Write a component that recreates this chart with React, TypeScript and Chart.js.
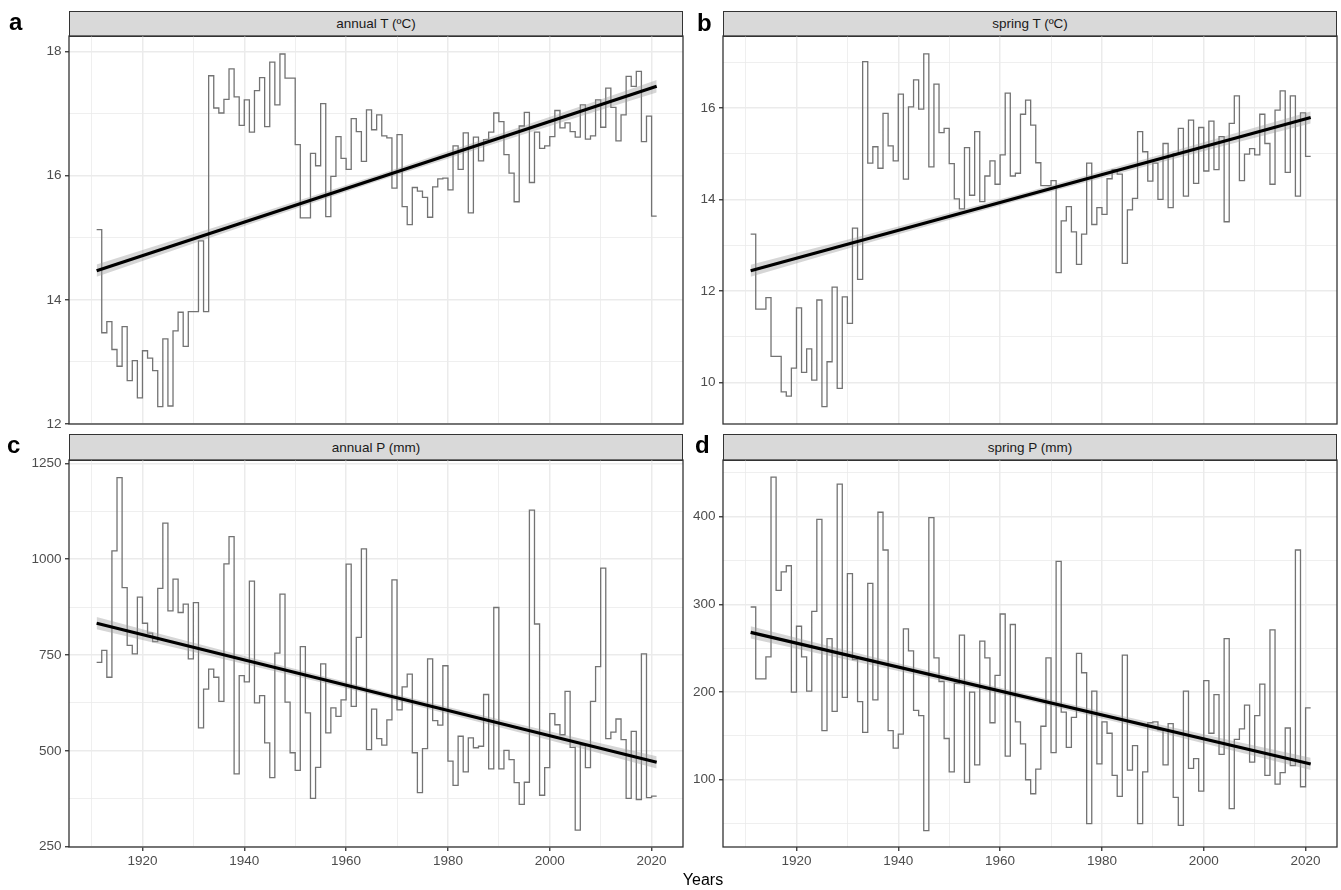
import React, { useEffect, useRef } from "react";
import { Chart, registerables } from "chart.js";

Chart.register(...registerables);

const FONT = '"Liberation Sans", Arial, Helvetica, sans-serif';

// ---------------- data ----------------
const years: number[] = Array.from({ length: 111 }, (_, i) => 1911 + i); // 1911..2021

const annualT = [
  15.13, 13.47, 13.65, 13.2, 12.93, 13.57, 12.7, 13.02, 12.42, 13.18,
  13.06, 12.86, 12.28, 13.37, 12.29, 13.5, 13.8, 13.25, 13.81, 13.81,
  14.95, 13.81, 17.61, 17.09, 17.01, 17.23, 17.72, 17.27, 16.81, 17.22,
  16.7, 17.37, 17.58, 16.79, 17.83, 17.14, 17.96, 17.57, 17.57, 16.5,
  15.32, 15.32, 16.36, 16.16, 17.16, 15.34, 15.99, 16.63, 16.28, 16.1,
  16.92, 16.71, 16.23, 17.06, 16.74, 16.98, 16.64, 16.61, 15.8, 16.66,
  15.5, 15.21, 15.81, 15.75, 15.65, 15.33, 15.82, 15.95, 15.96, 15.77,
  16.48, 16.1, 16.69, 15.4, 16.62, 16.24, 16.58, 16.7, 17.01, 16.87,
  16.34, 16.04, 15.58, 16.8, 17.02, 15.89, 16.7, 16.44, 16.48, 16.63,
  17.05, 16.77, 16.85, 16.71, 16.62, 17.14, 16.59, 16.64, 17.22, 16.78,
  17.41, 17.1, 16.56, 16.98, 17.6, 17.44, 17.68, 16.55, 16.96, 15.35,
  15.35,
];

const springT = [
  13.24, 11.6, 11.6, 11.85, 10.57, 10.57, 9.79, 9.7, 10.31, 11.63,
  10.22, 10.73, 10.05, 11.8, 9.47, 10.45, 12.08, 9.87, 11.87, 11.29,
  13.37, 12.25, 17.01, 14.79, 15.15, 14.68, 15.88, 15.17, 14.84, 16.3,
  14.44, 16.02, 16.61, 15.97, 17.18, 14.71, 16.52, 15.46, 15.55, 14.78,
  14.01, 13.79, 15.13, 14.09, 15.48, 13.95, 14.51, 14.84, 14.33, 14.97,
  16.32, 14.51, 14.57, 15.86, 16.17, 15.62, 14.8, 14.3, 14.3, 14.41,
  12.4, 13.53, 13.84, 13.29, 12.58, 13.24, 14.79, 13.45, 13.82, 13.67,
  14.45, 14.65, 14.55, 12.6, 13.77, 14.02, 15.48, 15.04, 14.4, 14.79,
  14.0, 15.22, 13.82, 15.0, 15.55, 14.07, 15.73, 14.35, 15.57, 14.62,
  15.71, 14.65, 15.37, 13.51, 15.66, 16.26, 14.41, 14.99, 15.11, 14.97,
  15.86, 15.22, 14.33, 15.95, 16.37, 14.59, 16.26, 14.07, 15.89, 14.94,
  14.94,
];

const annualP = [
  731, 762, 692, 1022, 1213, 926, 775, 753, 901, 833,
  807, 785, 924, 1094, 865, 948, 861, 883, 740, 887,
  560, 661, 713, 692, 629, 988, 1059, 440, 696, 680,
  943, 625, 644, 521, 430, 755, 909, 627, 495, 449,
  772, 599, 376, 457, 727, 547, 612, 590, 633, 987,
  616, 796, 1027, 503, 609, 532, 515, 581, 946, 607,
  667, 700, 495, 391, 506, 740, 579, 567, 722, 473,
  410, 538, 445, 534, 508, 512, 647, 453, 874, 453,
  501, 477, 417, 360, 418, 1128, 831, 384, 456, 597,
  568, 542, 655, 509, 293, 515, 456, 629, 720, 977,
  532, 549, 583, 529, 376, 551, 373, 753, 378, 382,
  382,
];

const springP = [
  297, 215, 215, 240, 445, 316, 337, 344, 200, 275,
  240, 201, 292, 397, 156, 261, 178, 437, 194, 335,
  237, 189, 154, 324, 191, 405, 362, 156, 136, 152,
  272, 247, 179, 173, 42, 399, 239, 212, 147, 109,
  210, 265, 97, 200, 117, 258, 239, 165, 219, 289,
  127, 277, 166, 141, 100, 84, 112, 161, 239, 131,
  349, 177, 137, 171, 244, 222, 50, 201, 118, 166,
  153, 105, 81, 242, 111, 139, 50, 109, 165, 166,
  157, 117, 164, 80, 48, 201, 113, 124, 87, 213,
  153, 197, 129, 261, 67, 146, 158, 185, 120, 173,
  209, 105, 271, 95, 108, 159, 116, 362, 92, 182,
  182,
];

// linear trend (start / end)
const trendYears = [1911, 2021];
const trendAnnualT = [14.47, 17.44];
const trendSpringT = [12.44, 15.79];
const trendAnnualP = [833, 470];
const trendSpringP = [268, 118];

// confidence band half-widths
const bandYears = [1911, 1925, 1940, 1966, 1992, 2007, 2021];
const bandAnnualT = [0.1, 0.082, 0.065, 0.05, 0.065, 0.082, 0.1];
const bandSpringT = [0.13, 0.106, 0.084, 0.065, 0.084, 0.106, 0.13];
const bandAnnualP = [16, 13, 10.4, 8, 10.4, 13, 16];
const bandSpringP = [7, 5.7, 4.5, 3.5, 4.5, 5.7, 7];

// tick labels (major) and minor grid steps
const xTickLabels = [1920, 1940, 1960, 1980, 2000, 2020];
const xMinorStep = 10;
const yTicksAnnualT = [12, 14, 16, 18];
const yTicksSpringT = [10, 12, 14, 16];
const yTicksAnnualP = [250, 500, 750, 1000, 1250];
const yTicksSpringP = [100, 200, 300, 400];

const stripTitles = ["annual T (ºC)", "spring T (ºC)", "annual P (mm)", "spring P (mm)"];
const panelLetters = ["a", "b", "c", "d"];
const xAxisTitle = "Years";

// ---------------- layout ----------------
const X_MIN = 1905.57;
const X_MAX = 2026.17;
const PAD = 14;
const Y_AXIS_W = 60;
const X_AXIS_H = 40;

type PanelDef = {
  title: string;
  letter: string;
  values: number[];
  trend: number[];
  band: number[];
  yMin: number;
  yMax: number;
  yStep: number;
  yMajor: number[];
  L: number;
  T: number;
  R: number;
  B: number;
  stripTop: number;
  bottom: boolean;
  letterX: number;
  letterBase: number;
};

const panels: PanelDef[] = [
  {
    title: stripTitles[0], letter: panelLetters[0], values: annualT, trend: trendAnnualT, band: bandAnnualT,
    yMin: 12.0, yMax: 18.25, yStep: 1, yMajor: yTicksAnnualT,
    L: 69, T: 36, R: 683, B: 424, stripTop: 11, bottom: false, letterX: 9, letterBase: 30,
  },
  {
    title: stripTitles[1], letter: panelLetters[1], values: springT, trend: trendSpringT, band: bandSpringT,
    yMin: 9.09, yMax: 17.57, yStep: 1, yMajor: yTicksSpringT,
    L: 723, T: 36, R: 1337, B: 424, stripTop: 11, bottom: false, letterX: 697, letterBase: 31,
  },
  {
    title: stripTitles[2], letter: panelLetters[2], values: annualP, trend: trendAnnualP, band: bandAnnualP,
    yMin: 249, yMax: 1259, yStep: 125, yMajor: yTicksAnnualP,
    L: 69, T: 460, R: 683, B: 847, stripTop: 434, bottom: true, letterX: 7, letterBase: 453,
  },
  {
    title: stripTitles[3], letter: panelLetters[3], values: springP, trend: trendSpringP, band: bandSpringP,
    yMin: 23.3, yMax: 464.6, yStep: 50, yMajor: yTicksSpringP,
    L: 723, T: 460, R: 1337, B: 847, stripTop: 434, bottom: true, letterX: 695, letterBase: 453,
  },
];

const MAJOR_GRID = "#ebebeb";
const TICK_COLOR = "#333333";
const LABEL_COLOR = "#4d4d4d";

const borderPlugin = {
  id: "panelBorder",
  afterDatasetsDraw(chart: any) {
    const { ctx, chartArea: a } = chart;
    ctx.save();
    ctx.strokeStyle = "#333333";
    ctx.lineWidth = 1.3;
    ctx.strokeRect(a.left, a.top, a.right - a.left, a.bottom - a.top);
    ctx.restore();
  },
};

function gridValues(min: number, max: number, step: number): number[] {
  const out: number[] = [];
  for (let v = Math.ceil(min / step - 1e-9) * step; v <= max + 1e-9; v += step) {
    out.push(Math.round(v * 1000) / 1000);
  }
  return out;
}

function buildConfig(p: PanelDef): any {
  const stepPts = years.map((x, i) => ({ x, y: p.values[i] }));
  const trendPts = trendYears.map((x, i) => ({ x, y: p.trend[i] }));
  const lineAt = (x: number) =>
    p.trend[0] + ((p.trend[1] - p.trend[0]) * (x - trendYears[0])) / (trendYears[1] - trendYears[0]);
  const upper = bandYears.map((x, i) => ({ x, y: lineAt(x) + p.band[i] }));
  const lower = bandYears.map((x, i) => ({ x, y: lineAt(x) - p.band[i] }));

  const isMajorX = (v: number) => xTickLabels.includes(v);
  const isMajorY = (v: number) => p.yMajor.includes(v);
  const xGrid = gridValues(X_MIN, X_MAX, xMinorStep);
  const yGrid = gridValues(p.yMin, p.yMax, p.yStep);

  return {
    type: "line",
    data: {
      datasets: [
        { data: trendPts, borderColor: "#000000", borderWidth: 3.2, pointRadius: 0, fill: false, order: 1 },
        {
          data: upper, borderColor: "rgba(0,0,0,0)", borderWidth: 1, pointRadius: 0,
          backgroundColor: "rgba(153,153,153,0.4)", fill: 2, order: 2,
        },
        { data: lower, borderColor: "rgba(0,0,0,0)", borderWidth: 1, pointRadius: 0, fill: false, order: 3 },
        {
          data: stepPts, borderColor: "#737373", borderWidth: 1.3, pointRadius: 0,
          stepped: "before", fill: false, order: 4,
        },
      ],
    },
    options: {
      animation: false,
      responsive: false,
      maintainAspectRatio: false,
      devicePixelRatio: 1,
      events: [],
      layout: { padding: { left: 0, top: PAD, right: PAD, bottom: p.bottom ? 0 : PAD } },
      plugins: {
        legend: { display: false },
        tooltip: { enabled: false },
        title: { display: false },
      },
      scales: {
        x: {
          type: "linear",
          min: X_MIN,
          max: X_MAX,
          bounds: "data",
          border: { display: false },
          grid: {
            drawOnChartArea: true,
            drawTicks: p.bottom,
            tickLength: 4,
            color: MAJOR_GRID,
            lineWidth: (c: any) => (c.tick && isMajorX(c.tick.value) ? 1.5 : 0.8),
            tickColor: (c: any) => (c.tick && isMajorX(c.tick.value) ? TICK_COLOR : "rgba(0,0,0,0)"),
            tickWidth: 1.3,
          },
          ticks: {
            display: p.bottom,
            autoSkip: false,
            maxRotation: 0,
            minRotation: 0,
            padding: 2,
            color: LABEL_COLOR,
            font: { family: FONT, size: 13.5 },
            callback: (v: number) => (isMajorX(v) ? String(v) : ""),
          },
          afterBuildTicks: (s: any) => {
            s.ticks = xGrid.map((v) => ({ value: v }));
          },
          afterFit: (s: any) => {
            s.height = p.bottom ? X_AXIS_H : 0;
          },
        },
        y: {
          type: "linear",
          min: p.yMin,
          max: p.yMax,
          bounds: "data",
          border: { display: false },
          grid: {
            drawOnChartArea: true,
            drawTicks: true,
            tickLength: 4,
            color: MAJOR_GRID,
            lineWidth: (c: any) => (c.tick && isMajorY(c.tick.value) ? 1.5 : 0.8),
            tickColor: (c: any) => (c.tick && isMajorY(c.tick.value) ? TICK_COLOR : "rgba(0,0,0,0)"),
            tickWidth: 1.3,
          },
          ticks: {
            autoSkip: false,
            padding: 3.5,
            color: LABEL_COLOR,
            font: { family: FONT, size: 13.5 },
            callback: (v: number) => (isMajorY(v) ? String(v) : ""),
          },
          afterBuildTicks: (s: any) => {
            s.ticks = yGrid.map((v) => ({ value: v }));
          },
          afterFit: (s: any) => {
            s.width = Y_AXIS_W;
          },
        },
      },
    },
    plugins: [borderPlugin],
  };
}

function Panel({ p }: { p: PanelDef }) {
  const ref = useRef<HTMLCanvasElement | null>(null);
  useEffect(() => {
    if (!ref.current) return;
    const chart = new Chart(ref.current, buildConfig(p));
    return () => chart.destroy();
  }, [p]);
  const w = p.R - p.L + Y_AXIS_W + PAD;
  const h = p.B - p.T + PAD + (p.bottom ? X_AXIS_H : PAD);
  return (
    <>
      <div
        style={{
          position: "absolute",
          left: p.L,
          top: p.stripTop,
          width: p.R - p.L,
          height: p.T - p.stripTop + 1,
          boxSizing: "border-box",
          background: "#d9d9d9",
          border: "1.3px solid #333333",
          display: "flex",
          alignItems: "center",
          justifyContent: "center",
          fontFamily: FONT,
          fontSize: 13.5,
          color: "#1a1a1a",
          lineHeight: 1,
        }}
      >
        {p.title}
      </div>
      <canvas
        ref={ref}
        width={w}
        height={h}
        style={{ position: "absolute", left: p.L - Y_AXIS_W, top: p.T - PAD, width: w, height: h }}
      />
      <div
        style={{
          position: "absolute",
          left: p.letterX,
          top: p.letterBase - 0.8465 * 24,
          fontFamily: FONT,
          fontWeight: "bold",
          fontSize: 24,
          lineHeight: 1,
          color: "#000",
        }}
      >
        {p.letter}
      </div>
    </>
  );
}

export default function App() {
  return (
    <div
      style={{
        position: "absolute",
        left: 0,
        top: 0,
        width: 1341,
        height: 890,
        overflow: "hidden",
        background: "#ffffff",
      }}
    >
      {panels.map((p) => (
        <Panel key={p.letter} p={p} />
      ))}
      <div
        style={{
          position: "absolute",
          left: 703,
          top: 886 - 0.8465 * 16,
          transform: "translateX(-50%)",
          fontFamily: FONT,
          fontSize: 16,
          lineHeight: 1,
          color: "#000",
          whiteSpace: "nowrap",
        }}
      >
        {xAxisTitle}
      </div>
    </div>
  );
}
